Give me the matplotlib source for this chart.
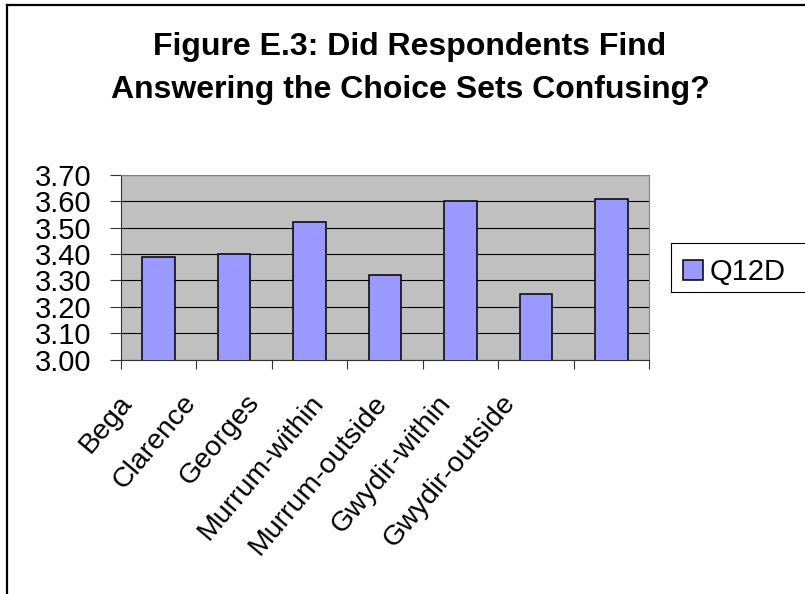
import matplotlib
matplotlib.use("Agg")
import matplotlib.pyplot as plt
from matplotlib.patches import Rectangle
from matplotlib.lines import Line2D
import numpy as np

# Survey results: mean response to Q12D by catchment group
categories = ["Bega", "Clarence", "Georges", "Murrum-within", "Murrum-outside",
              "Gwydir-within", "Gwydir-outside"]
q12d = [3.39, 3.40, 3.52, 3.32, 3.60, 3.25, 3.61]
series_name = "Q12D"
y_ticks = [3.00, 3.10, 3.20, 3.30, 3.40, 3.50, 3.60, 3.70]

plt.rcParams["font.family"] = ["Liberation Sans", "DejaVu Sans"]

W, H = 805, 594
fig = plt.figure(figsize=(W / 100, H / 100), dpi=100)
fig.patch.set_facecolor("white")

# plot area in pixel terms
left, right, top, bottom = 121, 649, 175, 359.5
ax = fig.add_axes([left / W, 1 - bottom / H, (right - left) / W, (bottom - top) / H])
ax.set_facecolor("#C0C0C0")

x = np.arange(len(categories))
bars = ax.bar(x, q12d, width=0.43, color="#9999FF", edgecolor="black",
              linewidth=1.1, zorder=3, label=series_name)

ax.set_xlim(-0.5, len(categories) - 0.5)
ax.set_ylim(y_ticks[0], y_ticks[-1])

# y axis
ax.set_yticks(y_ticks)
ax.set_yticklabels([f"{v:.2f}" for v in y_ticks])
ax.tick_params(axis="y", direction="out", length=8, width=0.8, pad=13,
               labelsize=21, color="#333333")
ax.yaxis.grid(True, color="black", linewidth=0.8, zorder=1)
ax.set_axisbelow(True)

# x axis: tick marks between categories, labels rotated
ax.set_xticks(np.arange(len(categories) + 1) - 0.5, minor=True)
ax.tick_params(axis="x", which="minor", direction="out", length=6.5, width=0.8,
               color="#333333")
label_step = 0.848
label_start = -0.42
ax.set_xticks(label_start + label_step * x)
ax.set_xticklabels(categories, rotation=50, ha="right", va="center",
                   rotation_mode="anchor")
ax.tick_params(axis="x", which="major", length=0, pad=28, labelsize=20.5)

for side in ("top", "right"):
    ax.spines[side].set_color("#808080")
    ax.spines[side].set_linewidth(0.8)
for side in ("left", "bottom"):
    ax.spines[side].set_color("#333333")
    ax.spines[side].set_linewidth(0.8)

# title (two lines)
fig.text(410 / W, 1 - 46.7 / H, "Figure E.3: Did Respondents Find",
         ha="center", va="center", fontsize=23, fontweight="bold")
fig.text(410 / W, 1 - 90 / H, "Answering the Choice Sets Confusing?",
         ha="center", va="center", fontsize=23, fontweight="bold")

# legend
ax.legend(handles=[bars.patches[0]], labels=[series_name], frameon=False,
          loc="center left", bbox_to_anchor=(683 / W, 1 - 272 / H),
          bbox_transform=fig.transFigure, fontsize=21, borderpad=0,
          borderaxespad=0, handlelength=0.685, handleheight=0.685,
          handletextpad=0.24)
fig.patches.append(Rectangle((671 / W, 1 - 292 / H), 0.4, 49 / H,
                             transform=fig.transFigure, fill=False,
                             edgecolor="black", linewidth=0.8))

# chart border (left and top edges)
fig.add_artist(Line2D([7 / W, 7 / W], [-0.1, 1 - 5 / H], transform=fig.transFigure,
                      color="black", linewidth=1.6))
fig.add_artist(Line2D([7 / W, 1.1], [1 - 5 / H, 1 - 5 / H], transform=fig.transFigure,
                      color="black", linewidth=1.6))

fig.savefig("out.png", dpi=100)
